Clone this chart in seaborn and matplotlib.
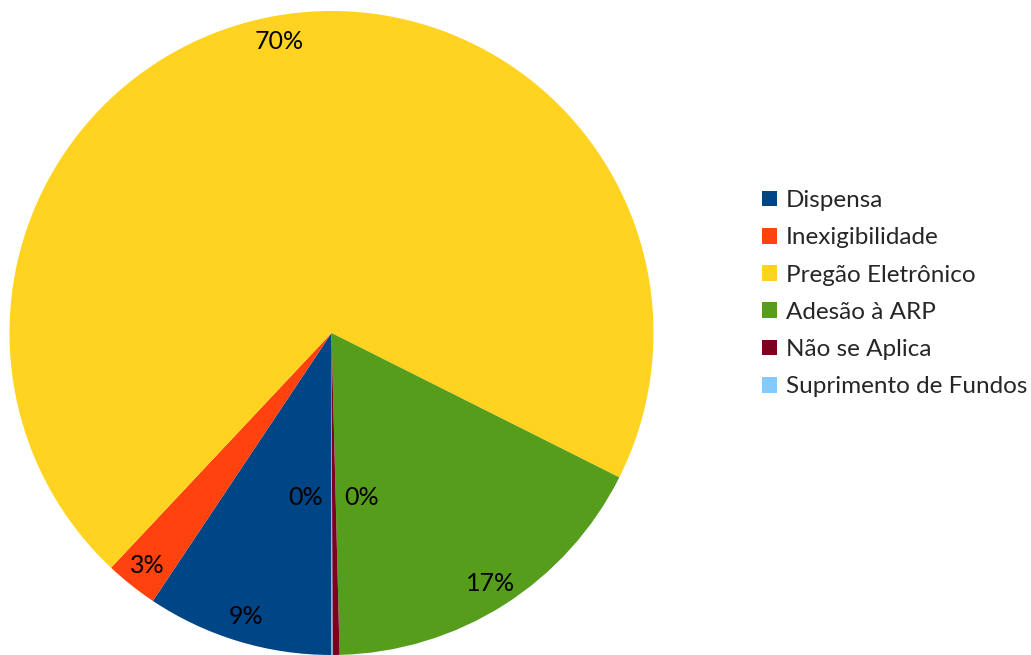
import matplotlib
matplotlib.use("Agg")
import matplotlib.pyplot as plt
import seaborn as sns

categories = ["Dispensa", "Inexigibilidade", "Pregão Eletrônico", "Adesão à ARP",
              "Não se Aplica", "Suprimento de Fundos"]
values = [9.36, 2.64, 70.4, 17.2, 0.35, 0.05]
colors = ["#004586", "#ff420e", "#ffd320", "#579d1c", "#7e0021", "#83caff"]

sns.set_theme(style="white")
plt.rcParams['font.family'] = ['Lato', 'DejaVu Sans']

W, H = 1031, 655
fig = plt.figure(figsize=(W / 100, H / 100), dpi=100)
cx, cy, r = 331.5, 333, 322
ax = fig.add_axes([(cx - r) / W, (H - cy - r) / H, 2 * r / W, 2 * r / H])

wedges, texts, autotexts = ax.pie(
    values, colors=colors, startangle=-90, counterclock=False,
    autopct=lambda p: f"{p:.0f}%", pctdistance=0.92, radius=1,
    wedgeprops=dict(linewidth=0),
    textprops=dict(color="black", fontsize=18))
ax.set_xlim(-1, 1)
ax.set_ylim(-1, 1)
ax.set_aspect("equal")
ax.axis("off")

# small slices: labels moved inward to avoid overlap
autotexts[4].set_position((0.092, -0.512))
autotexts[5].set_position((-0.079, -0.512))

leg = fig.legend(wedges, categories, loc="upper left",
                 bbox_to_anchor=(762 / W, 1 - 190 / H), bbox_transform=fig.transFigure,
                 frameon=False, fontsize=17.5, handlelength=0.62, handleheight=0.62,
                 handletextpad=0.35, labelspacing=0.67, borderpad=0, borderaxespad=0)

fig.savefig("out.png", dpi=100)
